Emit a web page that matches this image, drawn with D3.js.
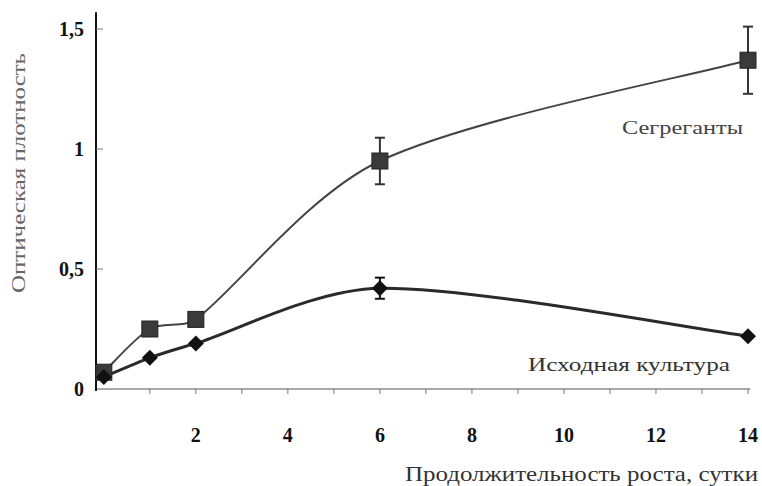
<!DOCTYPE html>
<html>
<head>
<meta charset="utf-8">
<script src="https://cdn.jsdelivr.net/npm/d3@7"></script>
<style>
  html, body { margin: 0; padding: 0; background: #fff; }
  svg { display: block; }
  text { font-family: "Liberation Serif", "Times New Roman", Times, serif; }
</style>
</head>
<body>
<svg id="chart" width="762" height="486"></svg>
<script>
// ---- data ----
const days = [0, 1, 2, 6, 14];
const segregants = [0.07, 0.25, 0.29, 0.95, 1.37];
const segregantsErr = [0, 0, 0, 0.097, 0.14];
const original = [0.05, 0.13, 0.19, 0.42, 0.22];
const originalErr = [0, 0, 0, 0.044, 0];
const xTickLabels = [2, 4, 6, 8, 10, 12, 14];
const xMinorTicks = [1, 2, 3, 4, 5, 6, 7, 8, 9, 10, 11, 12, 13, 14];
const yTickLabels = [0, 0.5, 1, 1.5];
const seriesNames = ["Сегреганты", "Исходная культура"];
const xTitle = "Продолжительность роста, сутки";
const yTitle = "Оптическая плотность";

// ---- layout ----
const svg = d3.select("#chart");
const x = d3.scaleLinear().domain([-0.17, 14]).range([96, 748]);
const y = d3.scaleLinear().domain([0, 1.5]).range([389, 29]);

// axes lines
svg.append("line")
  .attr("x1", x(-0.17)).attr("x2", x(14.05))
  .attr("y1", y(0)).attr("y2", y(0))
  .attr("stroke", "#555").attr("stroke-width", 1.2);
svg.append("line")
  .attr("x1", x(-0.17)).attr("x2", x(-0.17))
  .attr("y1", y(0) + 2).attr("y2", y(1.57))
  .attr("stroke", "#111").attr("stroke-width", 2);

// x ticks (small, downward)
svg.append("g").selectAll("line").data(xMinorTicks).join("line")
  .attr("x1", d => x(d)).attr("x2", d => x(d))
  .attr("y1", y(0)).attr("y2", y(0) + 5)
  .attr("stroke", "#777").attr("stroke-width", 1);

// y ticks (small, inward)
svg.append("g").selectAll("line").data(yTickLabels.filter(d => d > 0)).join("line")
  .attr("x1", x(-0.17)).attr("x2", x(-0.17) + 7)
  .attr("y1", d => y(d)).attr("y2", d => y(d))
  .attr("stroke", "#777").attr("stroke-width", 1);

// x tick labels
svg.append("g").selectAll("text").data(xTickLabels).join("text")
  .attr("x", d => x(d)).attr("y", 442)
  .attr("text-anchor", "middle")
  .attr("font-weight", "bold")
  .attr("font-size", 20).attr("fill", "#111")
  .text(d => d);

// y tick labels
const fmt = d => String(d).replace(".", ",");
svg.append("g").selectAll("text").data(yTickLabels).join("text")
  .attr("x", 84).attr("y", d => y(d) + 7)
  .attr("text-anchor", "end")
  .attr("font-weight", "bold")
  .attr("font-size", 20).attr("fill", "#111")
  .text(fmt);

// axis titles
svg.append("text")
  .attr("x", 405).attr("y", 481)
  .attr("font-size", 21).attr("fill", "#333")
  .attr("textLength", 353).attr("lengthAdjust", "spacingAndGlyphs")
  .text(xTitle);
svg.append("text")
  .attr("transform", "translate(25,293) rotate(-90)")
  .attr("font-size", 19).attr("fill", "#666")
  .attr("textLength", 240).attr("lengthAdjust", "spacingAndGlyphs")
  .text(yTitle);

// series labels
svg.append("text")
  .attr("x", 622).attr("y", 134)
  .attr("font-size", 19).attr("fill", "#444")
  .attr("textLength", 121).attr("lengthAdjust", "spacingAndGlyphs")
  .text(seriesNames[0]);
svg.append("text")
  .attr("x", 528).attr("y", 371)
  .attr("font-size", 19).attr("fill", "#333")
  .attr("textLength", 202).attr("lengthAdjust", "spacingAndGlyphs")
  .text(seriesNames[1]);

// Excel-like smoothed curve: Catmull-Rom arms, clamped to a third of the chord
function ExcelCurve(context) { this._context = context; }
ExcelCurve.prototype = {
  areaStart() { this._line = 0; },
  areaEnd() { this._line = NaN; },
  lineStart() { this._pts = []; },
  point(px, py) { this._pts.push([+px, +py]); },
  lineEnd() {
    const p = this._pts, c = this._context, n = p.length;
    if (!n) return;
    c.moveTo(p[0][0], p[0][1]);
    const clamp = (v, maxLen) => {
      const len = Math.hypot(v[0], v[1]);
      return len > maxLen ? [v[0] * maxLen / len, v[1] * maxLen / len] : v;
    };
    for (let i = 0; i < n - 1; i++) {
      const a = p[i], b = p[i + 1];
      const prev = p[i - 1] || a, next = p[i + 2] || b;
      const lim = Math.hypot(b[0] - a[0], b[1] - a[1]) / 3;
      const t1 = clamp([(b[0] - prev[0]) / 6, (b[1] - prev[1]) / 6], lim);
      const t2 = clamp([(next[0] - a[0]) / 6, (next[1] - a[1]) / 6], lim);
      c.bezierCurveTo(a[0] + t1[0], a[1] + t1[1], b[0] - t2[0], b[1] - t2[1], b[0], b[1]);
    }
  }
};
const excelCurve = ctx => new ExcelCurve(ctx);

const line = d3.line()
  .x(d => x(d[0])).y(d => y(d[1]))
  .curve(excelCurve);
const segData = days.map((d, i) => [d, segregants[i], segregantsErr[i]]);
const origData = days.map((d, i) => [d, original[i], originalErr[i]]);

svg.append("path").datum(segData).attr("d", line)
  .attr("fill", "none").attr("stroke", "#444").attr("stroke-width", 2);
svg.append("path").datum(origData).attr("d", line)
  .attr("fill", "none").attr("stroke", "#2a2a2a").attr("stroke-width", 3);

// error bars
function errorBars(data, color) {
  const g = svg.append("g").attr("stroke", color).attr("stroke-width", 2);
  data.filter(d => d[2] > 0).forEach(d => {
    const cx = x(d[0]);
    g.append("line").attr("x1", cx).attr("x2", cx)
      .attr("y1", y(d[1] - d[2])).attr("y2", y(d[1] + d[2]));
    [d[1] - d[2], d[1] + d[2]].forEach(v => {
      g.append("line").attr("x1", cx - 5).attr("x2", cx + 5)
        .attr("y1", y(v)).attr("y2", y(v));
    });
  });
}
errorBars(segData, "#333");
errorBars(origData, "#111");

// markers
svg.append("g").selectAll("rect").data(segData).join("rect")
  .attr("x", d => x(d[0]) - 8).attr("y", d => y(d[1]) - 8)
  .attr("width", 16).attr("height", 16)
  .attr("fill", "#3a3a3a").attr("stroke", "#222").attr("stroke-width", 1);
svg.append("g").selectAll("path").data(origData).join("path")
  .attr("transform", d => `translate(${x(d[0])},${y(d[1])})`)
  .attr("d", "M0,-8L8,0L0,8L-8,0Z")
  .attr("fill", "#111");
</script>
</body>
</html>
